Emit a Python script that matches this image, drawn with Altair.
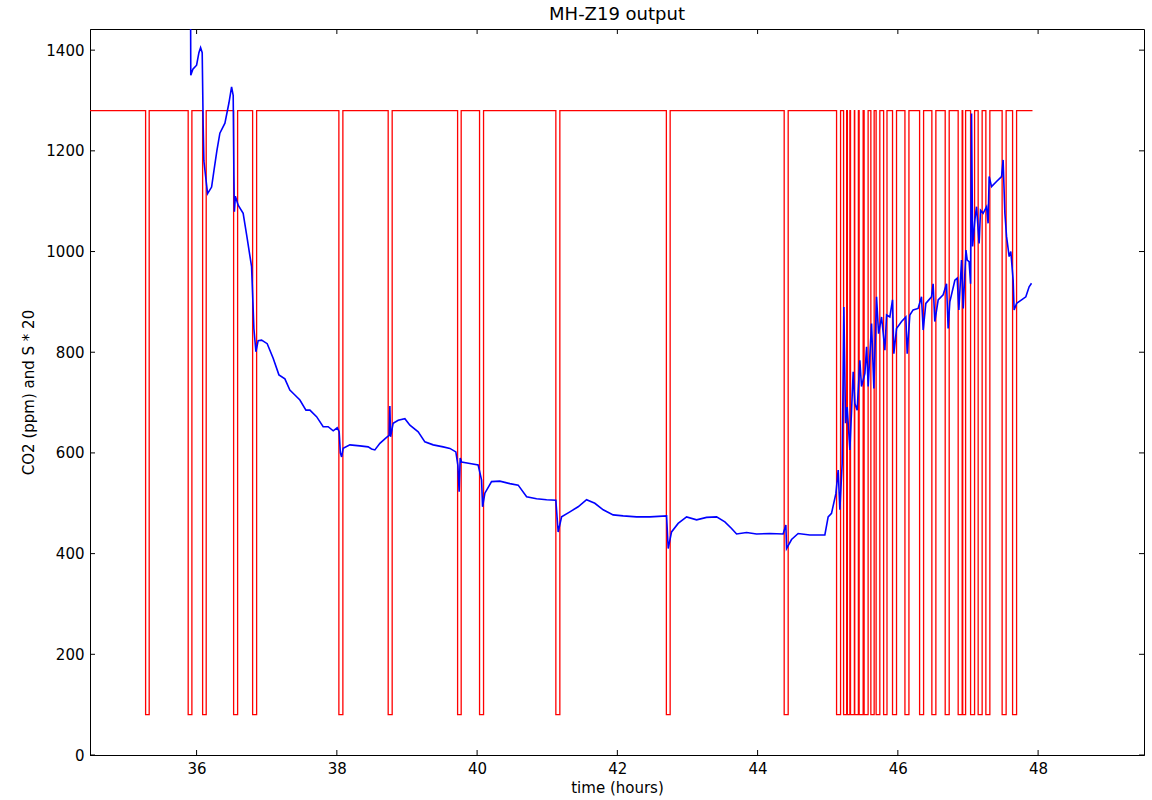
import altair as alt
import pandas as pd

# Plot area size in pixels
W, H = 1054, 726

# Axis ranges and ticks
x_domain = [34.48, 49.51]
y_domain = [0, 1442]
x_ticks = [36, 38, 40, 42, 44, 46, 48]
y_ticks = [0, 200, 400, 600, 800, 1000, 1200, 1400]

# CO2 readings (hours, ppm)
co2_hours = [
    35.914, 35.917, 35.947, 36.000, 36.033, 36.057, 36.080, 36.094, 36.104, 36.128,
    36.157, 36.214, 36.247, 36.289, 36.332, 36.404, 36.461, 36.499, 36.522, 36.532,
    36.539, 36.553, 36.593, 36.664, 36.717, 36.784, 36.803, 36.817, 36.846, 36.878,
    36.927, 37.007, 37.092, 37.174, 37.259, 37.330, 37.402, 37.473, 37.559, 37.616,
    37.711, 37.805, 37.876, 37.948, 38.005, 38.033, 38.050, 38.068, 38.090, 38.186,
    38.329, 38.447, 38.495, 38.542, 38.614, 38.709, 38.746, 38.756, 38.766, 38.803,
    38.875, 38.970, 39.042, 39.160, 39.255, 39.374, 39.516, 39.612, 39.697, 39.726,
    39.744, 39.759, 39.779, 39.897, 40.015, 40.064, 40.078, 40.111, 40.206, 40.325,
    40.467, 40.586, 40.706, 40.848, 40.991, 41.123, 41.156, 41.205, 41.323, 41.441,
    41.561, 41.679, 41.798, 41.940, 42.083, 42.274, 42.464, 42.702, 42.725, 42.773,
    42.867, 42.987, 43.130, 43.272, 43.415, 43.533, 43.629, 43.700, 43.843, 43.985,
    44.175, 44.364, 44.403, 44.413, 44.484, 44.578, 44.745, 44.959, 45.006, 45.054,
    45.116, 45.149, 45.173, 45.206, 45.230, 45.254, 45.277, 45.316, 45.340, 45.363,
    45.387, 45.420, 45.458, 45.482, 45.530, 45.554, 45.577, 45.625, 45.658, 45.696,
    45.725, 45.768, 45.815, 45.839, 45.886, 45.924, 45.943, 45.981, 46.053, 46.114,
    46.133, 46.171, 46.218, 46.289, 46.337, 46.361, 46.399, 46.480, 46.503, 46.527,
    46.575, 46.646, 46.694, 46.717, 46.741, 46.813, 46.846, 46.870, 46.908, 46.932,
    46.971, 46.989, 47.016, 47.037, 47.051, 47.066, 47.098, 47.122, 47.159, 47.179,
    47.216, 47.265, 47.287, 47.302, 47.336, 47.407, 47.479, 47.501, 47.526, 47.550,
    47.587, 47.611, 47.644, 47.658, 47.693, 47.764, 47.825, 47.872, 47.906,
]
co2_ppm = [
    1500, 1350, 1362, 1370, 1395, 1405, 1395, 1250, 1180, 1150,
    1115, 1128, 1160, 1200, 1235, 1255, 1295, 1327, 1310, 1150,
    1079, 1110, 1092, 1076, 1030, 970, 900, 847, 801, 823,
    824, 817, 788, 755, 747, 725, 715, 705, 685, 685,
    672, 652, 652, 644, 650, 642, 600, 592, 609, 616,
    614, 612, 608, 606, 619, 631, 635, 693, 632, 659,
    665, 668, 655, 642, 622, 616, 612, 609, 602, 575,
    523, 590, 582, 579, 576, 546, 493, 520, 543, 544,
    539, 536, 513, 509, 507, 506, 443, 473, 483, 493,
    507, 500, 487, 477, 475, 473, 473, 475, 410, 443,
    460, 473, 467, 472, 473, 463, 450, 439, 442, 439,
    440, 439, 457, 410, 428, 440, 437, 437, 473, 480,
    519, 566, 487, 579, 890, 659, 691, 606, 685, 761,
    698, 685, 784, 732, 758, 811, 732, 857, 728, 910,
    837, 870, 804, 874, 870, 904, 797, 847, 861, 870,
    797, 874, 884, 887, 910, 844, 897, 910, 936, 861,
    904, 914, 936, 847, 900, 943, 947, 884, 983, 887,
    1003, 983, 980, 936, 1274, 1010, 1063, 1089, 1016, 1082,
    1076, 1089, 1056, 1149, 1129, 1139, 1149, 1182, 1076, 1030,
    990, 1000, 943, 884, 897, 904, 910, 930, 937,
]

# Sensor state S: high level with short drops to the low level
s_start, s_end = 34.48, 47.92
s_high, s_low = 64, 4
s_scale = 20
s_down = [
    35.273, 35.880, 36.086, 36.528, 36.799, 38.029, 38.732, 39.722, 40.035, 41.123,
    42.699, 44.379, 45.126, 45.226, 45.280, 45.325, 45.385, 45.448, 45.519, 45.615,
    45.690, 45.797, 45.924, 46.101, 46.310, 46.485, 46.675, 46.860, 46.925, 47.037,
    47.145, 47.255, 47.487, 47.636,
]
s_up = [
    35.324, 35.933, 36.137, 36.585, 36.856, 38.086, 38.789, 39.773, 40.092, 41.180,
    42.753, 44.436, 45.183, 45.270, 45.316, 45.380, 45.437, 45.505, 45.576, 45.662,
    45.743, 45.845, 45.981, 46.158, 46.367, 46.542, 46.732, 46.917, 46.966, 47.094,
    47.202, 47.312, 47.544, 47.693,
]

hi, lo = s_high * s_scale, s_low * s_scale
s_rows = [(s_start, hi)]
for d, u in zip(s_down, s_up):
    s_rows += [(d, hi), (d, lo), (u, lo), (u, hi)]
s_rows.append((s_end, hi))
s_df = pd.DataFrame([{"t": t, "v": v, "i": k} for k, (t, v) in enumerate(s_rows)])

co2_df = pd.DataFrame({"t": co2_hours, "v": co2_ppm, "i": range(len(co2_hours))})

xs = alt.Scale(domain=x_domain, nice=False, zero=False)
ys = alt.Scale(domain=y_domain, nice=False, zero=False)

FONT = "DejaVu Sans"
axis_style = dict(
    grid=False, ticks=False, format="d",
    domain=True, domainColor="black", domainWidth=1,
    labelFont=FONT, labelFontSize=15, labelColor="black", labelPadding=6,
    titleFont=FONT, titleFontSize=15, titleFontWeight="normal", titleColor="black",
)
x_axis = alt.Axis(values=x_ticks, title="time (hours)", titlePadding=4, **axis_style)
y_axis = alt.Axis(values=y_ticks, title="CO2 (ppm) and S * 20", titlePadding=9, **axis_style)

X = alt.X("t:Q", scale=xs, axis=x_axis)
Y = alt.Y("v:Q", scale=ys, axis=y_axis)

s_line = alt.Chart(s_df).mark_line(color="#ff0000", strokeWidth=1.3, clip=True).encode(
    x=X, y=Y, order="i:Q",
)

co2_line = alt.Chart(co2_df).mark_line(color="#0000ff", strokeWidth=1.6, clip=True).encode(
    x=X, y=Y, order="i:Q",
)

# Inward tick marks on all four sides
xt = pd.DataFrame({"t": x_ticks})
yt = pd.DataFrame({"v": y_ticks})
tick_len = 5
bottom_ticks = alt.Chart(xt).mark_rule(color="black").encode(
    x=X, y=alt.value(H), y2=alt.value(H - tick_len))
top_ticks = alt.Chart(xt).mark_rule(color="black").encode(
    x=X, y=alt.value(0), y2=alt.value(tick_len))
left_ticks = alt.Chart(yt).mark_rule(color="black").encode(
    y=Y, x=alt.value(0), x2=alt.value(tick_len))
right_ticks = alt.Chart(yt).mark_rule(color="black").encode(
    y=Y, x=alt.value(W - tick_len), x2=alt.value(W))

chart = alt.layer(
    s_line, co2_line, bottom_ticks, top_ticks, left_ticks, right_ticks
).properties(
    width=W,
    height=H,
    background="white",
    title=alt.TitleParams("MH-Z19 output", fontSize=18, font=FONT,
                          fontWeight="normal", color="black", offset=5),
    autosize=alt.AutoSizeParams(type="none"),
    padding={"left": 90, "top": 29, "right": 8, "bottom": 45},
).configure_view(
    stroke="black", strokeWidth=1
)

chart.save("out.html", embed_options={"renderer": "svg", "actions": False})
